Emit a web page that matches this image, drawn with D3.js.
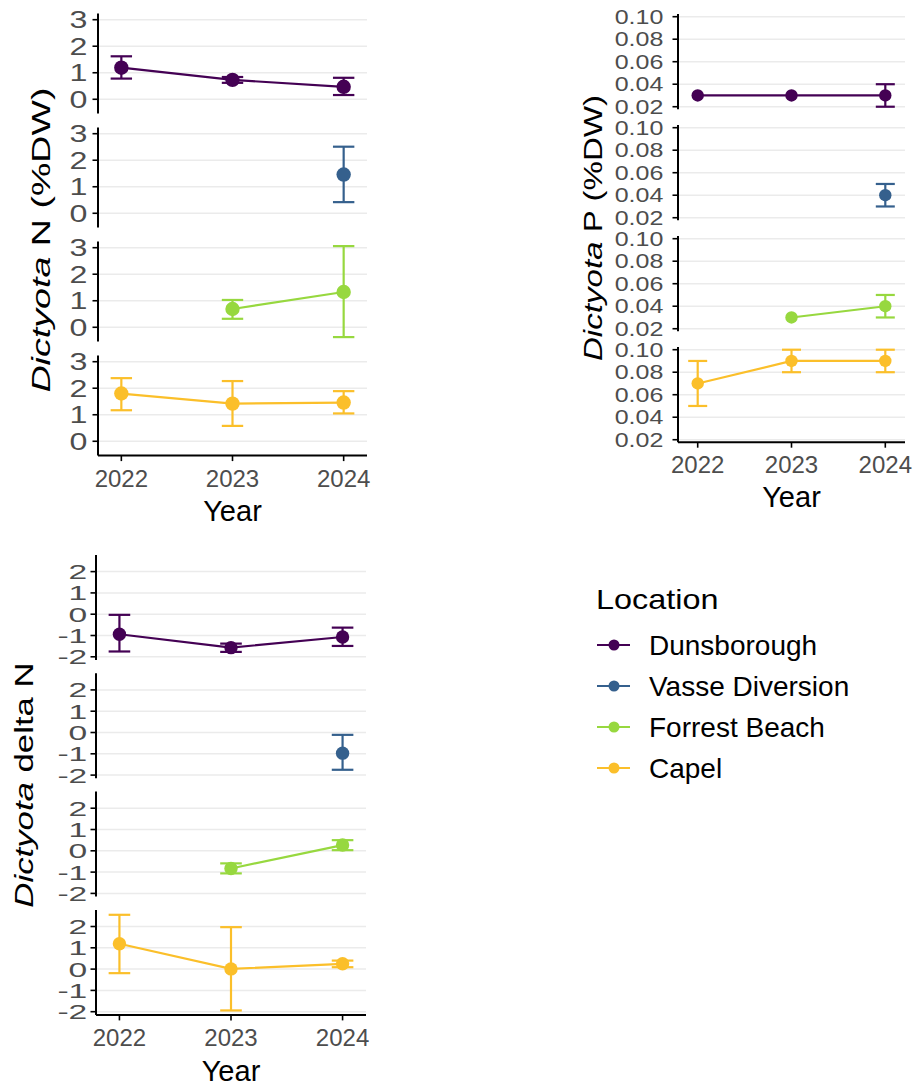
<!DOCTYPE html>
<html>
<head>
<meta charset="utf-8">
<script src="https://cdn.jsdelivr.net/npm/d3@7"></script>
<style>
  body { margin: 0; background: #fff; }
  svg { display: block; font-family: "Liberation Sans", Arial, sans-serif; }
</style>
</head>
<body>
<script>
// Dictyota tissue nutrients by location and year (faceted by location)

const years = [2022, 2023, 2024];
const locations = ["Dunsborough", "Vasse Diversion", "Forrest Beach", "Capel"];
const locationColors = ["#440154", "#35608d", "#97d83f", "#fbbf2a"];

// Dictyota N (%DW): mean and error bar limits, one row per location
const nMean = [[1.19, 0.73, 0.47], [null, null, 1.46], [null, 0.69, 1.33], [1.8, 1.42, 1.46]];
const nLow = [[0.78, 0.62, 0.16], [null, null, 0.42], [null, 0.32, -0.37], [1.17, 0.58, 1.05]];
const nHigh = [[1.62, 0.84, 0.81], [null, null, 2.51], [null, 1.03, 3.06], [2.38, 2.27, 1.89]];
const nTicks = [0, 1, 2, 3];

// Dictyota P (%DW)
const pMean = [[0.03, 0.03, 0.03], [null, null, 0.04], [null, 0.03, 0.04], [0.07, 0.09, 0.09]];
const pLow = [[null, null, 0.02], [null, null, 0.03], [null, null, 0.03], [0.05, 0.08, 0.08]];
const pHigh = [[null, null, 0.04], [null, null, 0.05], [null, null, 0.05], [0.09, 0.10, 0.10]];
const pTicks = [0.02, 0.04, 0.06, 0.08, 0.10];

// Dictyota delta N
const dMean = [[-0.94, -1.57, -1.07], [null, null, -0.97], [null, -0.83, 0.27], [1.19, 0.01, 0.25]];
const dLow = [[-1.75, -1.77, -1.49], [null, null, -1.75], [null, -1.06, 0.03], [-0.19, -1.94, 0.09]];
const dHigh = [[-0.03, -1.38, -0.63], [null, null, -0.11], [null, -0.59, 0.5], [2.55, 1.97, 0.4]];
const dTicks = [-2, -1, 0, 1, 2];

const W = 914, H = 1086;
const svg = d3.select("body").append("svg").attr("width", W).attr("height", H);

const grey = "#4d4d4d";

function drawChart(cfg) {
  const x = d3.scaleLinear().domain([2021.79, 2024.21]).range([cfg.x0, cfg.x1]);
  const g = svg.append("g");

  cfg.mean.forEach((row, li) => {
    const top = cfg.top + li * cfg.step;
    const y = d3.scaleLinear().domain(cfg.domain).range([top + cfg.panelH, top]);
    const col = locationColors[li];
    const p = g.append("g");

    // grid
    p.selectAll(".grid").data(cfg.ticks).join("line")
      .attr("x1", cfg.x0).attr("x2", cfg.x1)
      .attr("y1", (d) => y(d)).attr("y2", (d) => y(d))
      .attr("stroke", "#ebebeb").attr("stroke-width", 1.5);

    // y axis
    p.append("line")
      .attr("x1", cfg.x0).attr("x2", cfg.x0)
      .attr("y1", top).attr("y2", top + cfg.panelH)
      .attr("stroke", "#000").attr("stroke-width", 2);
    p.selectAll(".yt").data(cfg.ticks).join("line")
      .attr("x1", cfg.x0 - 5.5).attr("x2", cfg.x0)
      .attr("y1", (d) => y(d)).attr("y2", (d) => y(d))
      .attr("stroke", "#000").attr("stroke-width", 1.6);
    p.selectAll(".yl").data(cfg.ticks).join("text")
      .attr("transform", (d) => `translate(${cfg.x0 - cfg.labelGap},${y(d)}) scale(${cfg.tickSx},1)`)
      .attr("text-anchor", "end")
      .attr("dy", "0.36em")
      .style("font-size", cfg.tickSize + "px")
      .style("fill", grey)
      .text((d) => cfg.fmt(d));

    const pts = years.map((yr, i) => ({ yr, m: row[i], lo: cfg.low[li][i], hi: cfg.high[li][i] }))
      .filter((d) => d.m != null);

    // line
    p.append("path")
      .datum(pts)
      .attr("fill", "none")
      .attr("stroke", col)
      .attr("stroke-width", 2.2)
      .attr("d", d3.line().x((d) => x(d.yr)).y((d) => y(d.m)));

    // error bars
    const eb = pts.filter((d) => d.lo != null);
    const ebg = p.selectAll(".eb").data(eb).join("g")
      .attr("stroke", col).attr("stroke-width", 2.2).attr("fill", "none");
    ebg.append("line")
      .attr("x1", (d) => x(d.yr)).attr("x2", (d) => x(d.yr))
      .attr("y1", (d) => y(d.lo)).attr("y2", (d) => y(d.hi));
    ebg.append("line")
      .attr("x1", (d) => x(d.yr) - cfg.cap).attr("x2", (d) => x(d.yr) + cfg.cap)
      .attr("y1", (d) => y(d.lo)).attr("y2", (d) => y(d.lo));
    ebg.append("line")
      .attr("x1", (d) => x(d.yr) - cfg.cap).attr("x2", (d) => x(d.yr) + cfg.cap)
      .attr("y1", (d) => y(d.hi)).attr("y2", (d) => y(d.hi));

    // points
    p.selectAll(".pt").data(pts).join("circle")
      .attr("cx", (d) => x(d.yr)).attr("cy", (d) => y(d.m))
      .attr("r", cfg.r).attr("fill", col);
  });

  // x axis under the last panel
  const axisY = cfg.top + 3 * cfg.step + cfg.panelH;
  g.append("line")
    .attr("x1", cfg.x0).attr("x2", cfg.x1)
    .attr("y1", axisY).attr("y2", axisY)
    .attr("stroke", "#000").attr("stroke-width", 2);
  g.selectAll(".xt").data(years).join("line")
    .attr("x1", (d) => x(d)).attr("x2", (d) => x(d))
    .attr("y1", axisY).attr("y2", axisY + 5.5)
    .attr("stroke", "#000").attr("stroke-width", 1.6);
  g.selectAll(".xl").data(years).join("text")
    .attr("x", (d) => x(d)).attr("y", axisY + 31)
    .attr("text-anchor", "middle")
    .style("font-size", "24px").style("fill", grey)
    .text((d) => d);
  g.append("text")
    .attr("x", (cfg.x0 + cfg.x1) / 2).attr("y", axisY + cfg.yearGap)
    .attr("text-anchor", "middle")
    .style("font-size", "29px").style("fill", "#000")
    .text("Year");

  // y title
  const t = g.append("text")
    .attr("transform", `translate(${cfg.titleX},${cfg.titleY}) rotate(-90) scale(${cfg.titleSx},1)`)
    .attr("text-anchor", "middle")
    .style("font-size", cfg.titleSize + "px").style("fill", "#000");
  t.append("tspan").style("font-style", "italic").text("Dictyota");
  t.append("tspan").text(cfg.titleRest);
}

drawChart({
  x0: 98, x1: 367, top: 13.6, panelH: 100, step: 114, domain: [-0.54, 3.23],
  ticks: nTicks, fmt: d3.format("d"), tickSize: 23, tickSx: 1.4, labelGap: 10.7,
  mean: nMean, low: nLow, high: nHigh, r: 7.2, cap: 10.7, yearGap: 65,
  titleX: 50, titleY: 240, titleSize: 25.6, titleSx: 1.47, titleRest: " N (%DW)"
});

drawChart({
  x0: 678, x1: 905, top: 14, panelH: 95.2, step: 111, domain: [0.0178, 0.1024],
  ticks: pTicks, fmt: d3.format(".2f"), tickSize: 20, tickSx: 1.25, labelGap: 14.7,
  mean: pMean, low: pLow, high: pHigh, r: 6.2, cap: 9.5, yearGap: 65,
  titleX: 601.7, titleY: 228, titleSize: 26.5, titleSx: 1.25, titleRest: " P (%DW)"
});

drawChart({
  x0: 96, x1: 366, top: 555, panelH: 105, step: 118.3, domain: [-2.15, 2.78],
  ticks: dTicks, fmt: (d) => String(d), tickSize: 21, tickSx: 1.6, labelGap: 8.7,
  mean: dMean, low: dLow, high: dHigh, r: 6.7, cap: 10.8, yearGap: 66,
  titleX: 33, titleY: 785, titleSize: 25, titleSx: 1.39, titleRest: " delta N"
});

// legend
const lg = svg.append("g");
lg.append("text")
  .attr("transform", "translate(596,609) scale(1.2,1)")
  .style("font-size", "27px").style("fill", "#000")
  .text("Location");
const item = lg.selectAll(".item").data(locations).join("g")
  .attr("transform", (d, i) => `translate(0,${645 + i * 41})`);
item.append("line")
  .attr("x1", 597).attr("x2", 630).attr("y1", 0).attr("y2", 0)
  .attr("stroke", (d, i) => locationColors[i]).attr("stroke-width", 2.2);
item.append("circle")
  .attr("cx", 614).attr("cy", 0).attr("r", 5.5)
  .attr("fill", (d, i) => locationColors[i]);
item.append("text")
  .attr("x", 649).attr("y", 0).attr("dy", "0.34em")
  .style("font-size", "28px").style("fill", "#000")
  .text((d) => d);
</script>
</body>
</html>
